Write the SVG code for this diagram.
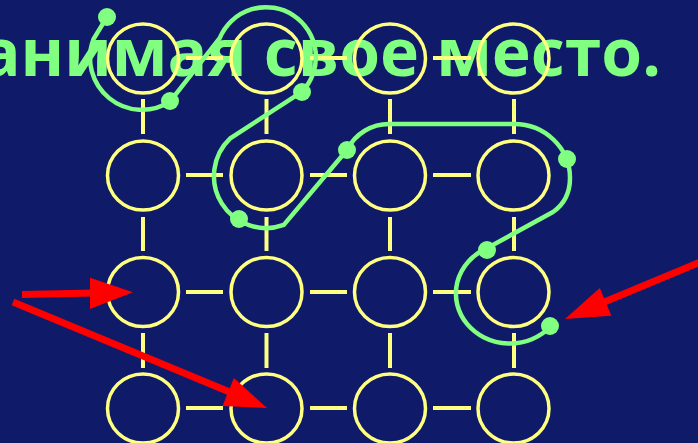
<svg xmlns="http://www.w3.org/2000/svg" width="698" height="443" viewBox="0 0 698 443">
<style>
.node ellipse{fill:none;stroke:#ffff80;stroke-width:3.5}
.conn line{stroke:#ffff80;stroke-width:4}
.title{font-family:"Open Sans","Noto Sans","DejaVu Sans",sans-serif;font-weight:bold;font-size:66px;fill:#80ff80}
.route{fill:none;stroke:#80ff80;stroke-width:4.5;stroke-linejoin:round;stroke-linecap:round}
.dot{fill:#80ff80}
.arrow line{stroke:#ff0000;stroke-width:7}
.arrow polygon{fill:#ff0000}
</style>
<rect x="0" y="0" width="698" height="443" fill="#0f1b69"/>
<text class="title" x="661" y="76" text-anchor="end">анимая свое место.</text>
<g id="connectors" class="conn">
<line x1="186" y1="58" x2="223" y2="58"/><line x1="310" y1="58" x2="347" y2="58"/><line x1="433" y1="58" x2="471" y2="58"/>
<line x1="186" y1="175" x2="223" y2="175"/><line x1="310" y1="175" x2="347" y2="175"/><line x1="433" y1="175" x2="471" y2="175"/>
<line x1="186" y1="292" x2="223" y2="292"/><line x1="310" y1="292" x2="347" y2="292"/><line x1="433" y1="292" x2="471" y2="292"/>
<line x1="186" y1="408" x2="223" y2="408"/><line x1="310" y1="408" x2="347" y2="408"/><line x1="433" y1="408" x2="471" y2="408"/>
<line x1="143" y1="99" x2="143" y2="134"/><line x1="266.5" y1="99" x2="266.5" y2="134"/><line x1="390" y1="99" x2="390" y2="134"/><line x1="514" y1="99" x2="514" y2="134"/>
<line x1="143" y1="217" x2="143" y2="251"/><line x1="266.5" y1="217" x2="266.5" y2="251"/><line x1="390" y1="217" x2="390" y2="251"/><line x1="514" y1="217" x2="514" y2="251"/>
<line x1="143" y1="333" x2="143" y2="368"/><line x1="266.5" y1="333" x2="266.5" y2="368"/><line x1="390" y1="333" x2="390" y2="368"/><line x1="514" y1="333" x2="514" y2="368"/>
</g>
<g id="n11" class="node"><ellipse cx="143" cy="58.5" rx="35.5" ry="34.5"/></g>
<g id="n12" class="node"><ellipse cx="266.5" cy="58.5" rx="35.5" ry="34.5"/></g>
<g id="n13" class="node"><ellipse cx="390" cy="58.5" rx="35.5" ry="34.5"/></g>
<g id="n14" class="node"><ellipse cx="513.5" cy="58.5" rx="35.5" ry="34.5"/></g>
<g id="n21" class="node"><ellipse cx="143" cy="175.5" rx="35.5" ry="34.5"/></g>
<g id="n22" class="node"><ellipse cx="266.5" cy="175.5" rx="35.5" ry="34.5"/></g>
<g id="n23" class="node"><ellipse cx="390" cy="175.5" rx="35.5" ry="34.5"/></g>
<g id="n24" class="node"><ellipse cx="513.5" cy="175.5" rx="35.5" ry="34.5"/></g>
<g id="n31" class="node"><ellipse cx="143" cy="292" rx="35.5" ry="34.5"/></g>
<g id="n32" class="node"><ellipse cx="266.5" cy="292" rx="35.5" ry="34.5"/></g>
<g id="n33" class="node"><ellipse cx="390" cy="292" rx="35.5" ry="34.5"/></g>
<g id="n34" class="node"><ellipse cx="513.5" cy="292" rx="35.5" ry="34.5"/></g>
<g id="n41" class="node"><ellipse cx="143" cy="408.5" rx="35.5" ry="34.5"/></g>
<g id="n42" class="node"><ellipse cx="266.5" cy="408.5" rx="35.5" ry="34.5"/></g>
<g id="n43" class="node"><ellipse cx="390" cy="408.5" rx="35.5" ry="34.5"/></g>
<g id="n44" class="node"><ellipse cx="513.5" cy="408.5" rx="35.5" ry="34.5"/></g>
<g id="route">
<path class="route" d="M107 17 L93.5 39.2 A52 52 0 0 0 170 101.7 L219.7 38.1 A50 50 0 1 1 301.9 91.9 L230.2 138.3 A52 52 0 0 0 283.8 224.9 L347 150 A47 47 0 0 1 390 124 L514 124 C545 124 570 148 570 178 C570 195 563 205 553 212 L486.2 248.6 A54 50 0 1 0 550.5 326.5"/>
<circle class="dot" cx="107" cy="17" r="9"/>
<circle class="dot" cx="170" cy="101" r="9"/>
<circle class="dot" cx="302" cy="92" r="9"/>
<circle class="dot" cx="239" cy="219" r="9"/>
<circle class="dot" cx="347" cy="150" r="9"/>
<circle class="dot" cx="567" cy="159" r="9"/>
<circle class="dot" cx="487" cy="250" r="9"/>
<circle class="dot" cx="550" cy="326" r="9"/>
</g>
<g id="arrows" class="arrow">
<line x1="22" y1="294.5" x2="95" y2="293"/>
<polygon points="133,292.3 90,277.7 90,309"/>
<line x1="13" y1="302" x2="232" y2="393"/>
<polygon points="267,408 233.9,378.1 222.5,405.9"/>
<line x1="710" y1="258" x2="602" y2="303"/>
<polygon points="565,319 599.8,288.1 611.4,315.7"/>
</g>
</svg>
